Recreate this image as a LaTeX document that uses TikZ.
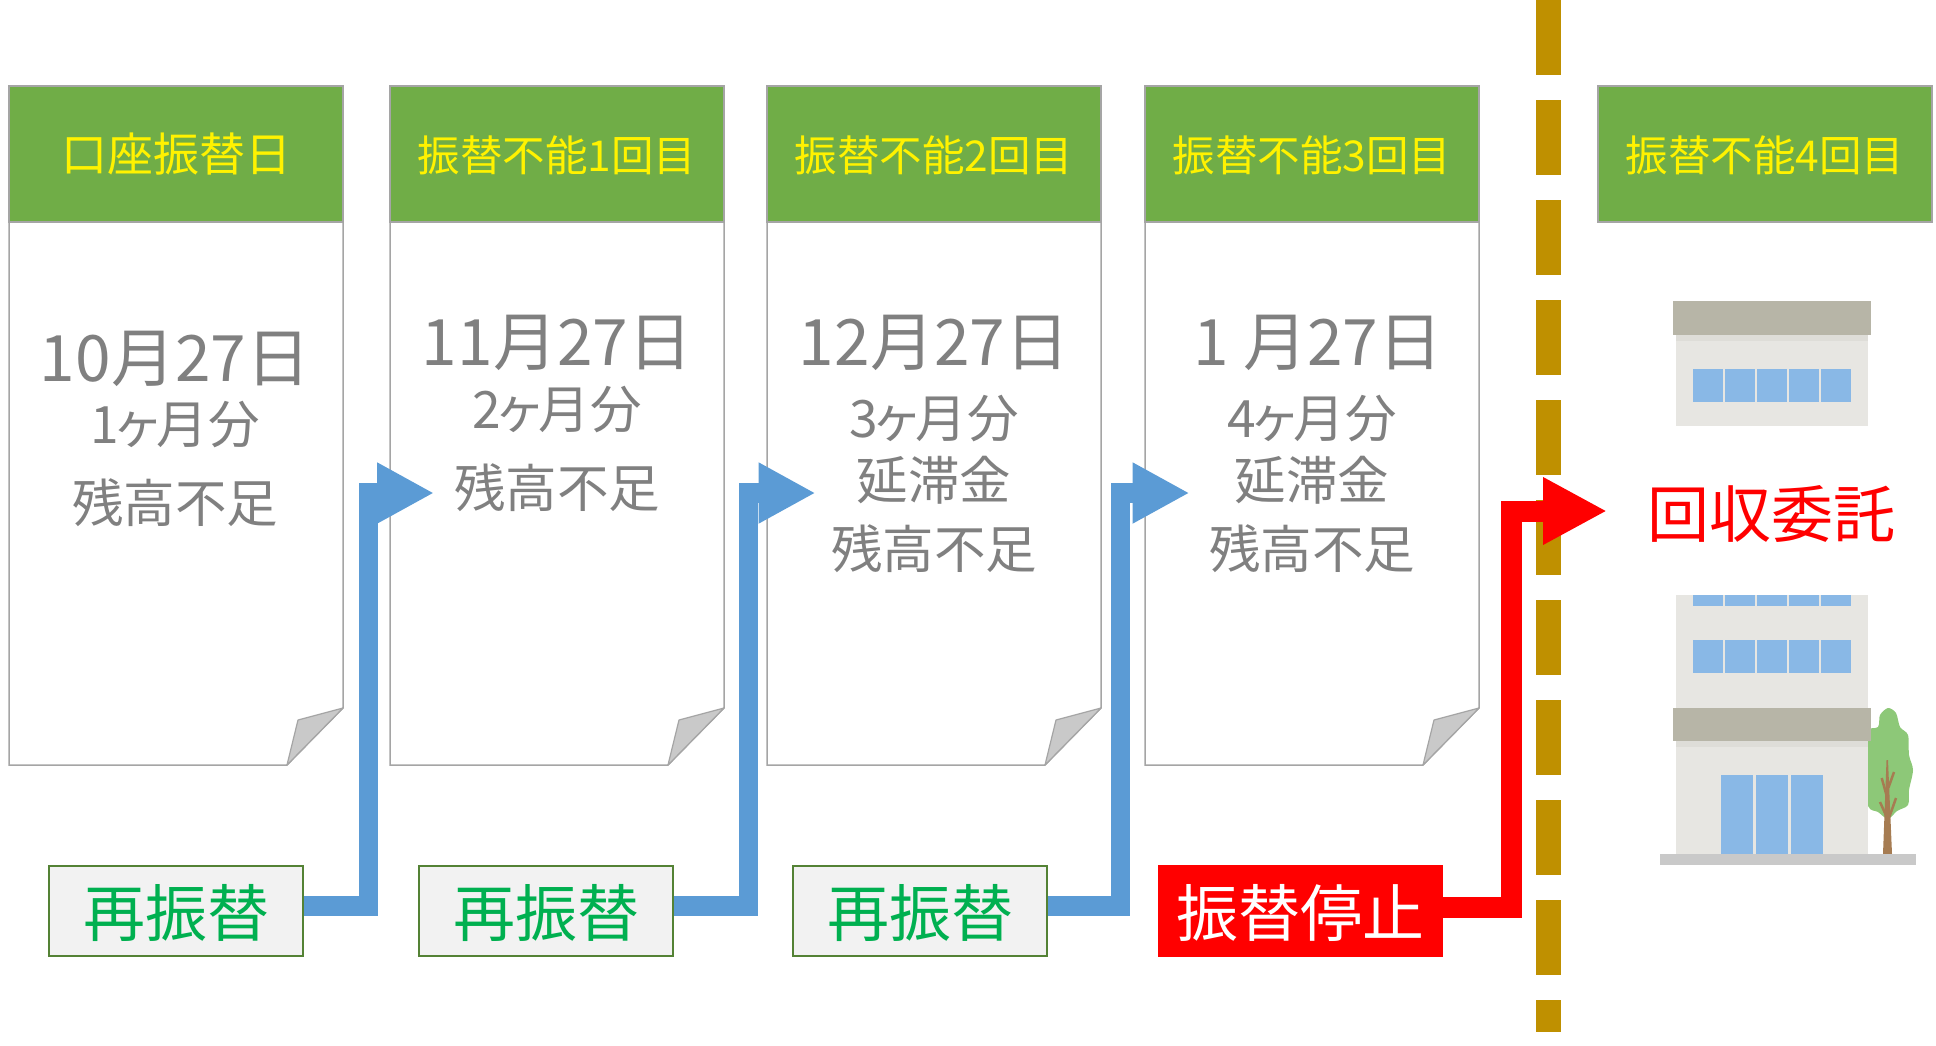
\documentclass[tikz,border=0pt]{standalone}
\usepackage{fontspec}
\setmainfont{Noto Sans CJK JP}
\usetikzlibrary{arrows.meta}
\definecolor{HeadClr}{RGB}{112,173,71}
\definecolor{EdgeClr}{RGB}{165,165,165}
\definecolor{FoldClr}{RGB}{201,201,201}
\definecolor{MsgClr}{RGB}{128,128,128}
\definecolor{RetryClr}{RGB}{0,176,80}
\definecolor{RetryEdgeClr}{RGB}{84,130,53}
\definecolor{RetryFillClr}{RGB}{242,242,242}
\definecolor{FlowClr}{RGB}{91,155,213}
\definecolor{LimitClr}{RGB}{191,144,0}
\definecolor{RoofClr}{RGB}{183,181,167}
\definecolor{WallClr}{RGB}{231,230,226}
\definecolor{EavesClr}{RGB}{222,221,216}
\definecolor{GlassClr}{RGB}{137,184,230}
\definecolor{LeafClr}{RGB}{141,200,120}
\definecolor{TrunkClr}{RGB}{166,124,82}
\newcommand{\smallka}{\kern-7pt ヶ\kern-7pt }
\tikzset{
  headbox/.style={draw=EdgeClr,line width=1.5pt,fill=HeadClr,text=yellow,minimum width=334,minimum height=136,inner sep=0pt,text height=38pt,text depth=3pt,font=\fontsize{42.5}{42.5}\selectfont},
  paper/.style={draw=EdgeClr,line width=1.5pt,fill=white},
  fold/.style={draw=EdgeClr,line width=1.2pt,fill=FoldClr,line join=round},
  datetext/.style={text=MsgClr,inner sep=0pt,text height=56pt,text depth=8pt,font=\fontsize{64}{64}\selectfont},
  msgtext/.style={text=MsgClr,inner sep=0pt,text height=45pt,text depth=6pt,font=\fontsize{51.5}{51.5}\selectfont},
  retrybox/.style={draw=RetryEdgeClr,line width=1.5pt,fill=RetryFillClr,text=RetryClr,minimum width=254,minimum height=90,inner sep=0pt,text height=57pt,text depth=6pt,font=\fontsize{62}{62}\selectfont},
  stopbox/.style={fill=red,text=white,minimum width=285,minimum height=92,inner sep=0pt,text height=57pt,text depth=6pt,font=\fontsize{62}{62}\selectfont},
  flowline/.style={draw=FlowClr,line width=19.5pt,-{Triangle[length=57pt,width=57pt]}},
  stopline/.style={draw=red,line width=21pt,-{Triangle[length=64pt,width=63pt]}}
}

\begin{document}
\begin{tikzpicture}[x=1pt,y=-1pt]
\useasboundingbox (0,0) rectangle (1936,1045);

% Cards
\draw[paper] (9,222) -- (9,765) -- (287,765) -- (343,708) -- (343,222) -- cycle;
\draw[fold] (287,765) -- (298,720) -- (343,708) -- cycle;
\draw[paper] (390,222) -- (390,765) -- (668,765) -- (724,708) -- (724,222) -- cycle;
\draw[fold] (668,765) -- (679,720) -- (724,708) -- cycle;
\draw[paper] (767,222) -- (767,765) -- (1045,765) -- (1101,708) -- (1101,222) -- cycle;
\draw[fold] (1045,765) -- (1056,720) -- (1101,708) -- cycle;
\draw[paper] (1145,222) -- (1145,765) -- (1423,765) -- (1479,708) -- (1479,222) -- cycle;
\draw[fold] (1423,765) -- (1434,720) -- (1479,708) -- cycle;

\node[headbox] (head1) at (176,154) {\fontsize{46}{46}\selectfont 口座振替日};
\node[headbox] (head2) at (557,154) {振替不能1回目};
\node[headbox] (head3) at (934,154) {振替不能2回目};
\node[headbox] (head4) at (1312,154) {振替不能3回目};
\node[headbox] (head5) at (1765,154) {振替不能4回目};

\node[datetext] (date1) at (175,357) {10月27日};
\node[msgtext] (month1) at (175,424) {1\smallka 月分};
\node[msgtext] (short1) at (175,503) {残高不足};

\node[datetext] (date2) at (557,341) {11月27日};
\node[msgtext] (month2) at (557,409) {2\smallka 月分};
\node[msgtext] (short2) at (557,488) {残高不足};

\node[datetext] (date3) at (934,341) {12月27日};
\node[msgtext] (month3) at (934,418) {3\smallka 月分};
\node[msgtext] (late3) at (934,480) {延滞金};
\node[msgtext] (short3) at (934,549) {残高不足};

\node[datetext] (date4) at (1318,341) {1 月27日};
\node[msgtext] (month4) at (1312,418) {4\smallka 月分};
\node[msgtext] (late4) at (1312,480) {延滞金};
\node[msgtext] (short4) at (1312,549) {残高不足};

% Boundary line
\coordinate (limittop) at (1548,0);
\coordinate (limitend) at (1548,1032);
\draw[LimitClr,line width=25pt,dash pattern=on 75pt off 25pt] (limittop) -- (limitend);

% Bottom boxes
\node[retrybox] (retry1) at (176,911) {再振替};
\node[retrybox] (retry2) at (546,911) {再振替};
\node[retrybox] (retry3) at (920,911) {再振替};
\node[stopbox] (stop) at (1300.5,910.5) {振替停止};

\coordinate (bend1) at (368.5,906);
\coordinate (tip1) at (434,493);
\coordinate (bend2) at (748.5,906);
\coordinate (tip2) at (815.5,493);
\coordinate (bend3) at (1120.5,906);
\coordinate (tip3) at (1189.5,493);
\coordinate (bend4) at (1511.5,907);
\coordinate (tip4) at (1607,511);

\draw[flowline] (retry1.east |- bend1) -- (bend1) |- (tip1);
\draw[flowline] (retry2.east |- bend2) -- (bend2) |- (tip2);
\draw[flowline] (retry3.east |- bend3) -- (bend3) |- (tip3);
\draw[stopline] (stop.east |- bend4) -- (bend4) |- (tip4);

% Upper building
\fill[WallClr] (1676,335) rectangle (1868,426);
\fill[EavesClr] (1676,335) rectangle (1868,341);
\fill[RoofClr] (1673,301) rectangle (1871,335);
\fill[GlassClr] (1693,369) rectangle (1723,402);
\fill[GlassClr] (1725,369) rectangle (1755,402);
\fill[GlassClr] (1757,369) rectangle (1787,402);
\fill[GlassClr] (1789,369) rectangle (1819,402);
\fill[GlassClr] (1821,369) rectangle (1851,402);

% Tree
\fill[LeafClr] plot[smooth cycle] coordinates {(1878,727) (1880,715) (1888,708) (1896,713) (1900,727) (1908,735) (1909,755) (1913,770) (1909,790) (1908,805) (1897,811) (1888,819) (1878,812) (1868,806) (1860,770) (1866,732)};
\fill[TrunkClr] (1883,854) -- (1886.5,760) -- (1888,760) -- (1892,854) -- cycle;
\draw[TrunkClr,line width=2.5pt] (1886.7,796) -- (1881.7,778);
\draw[TrunkClr,line width=2.5pt] (1888.3,788) -- (1894,772);
\draw[TrunkClr,line width=2.5pt] (1886.7,817) -- (1880,802);
\draw[TrunkClr,line width=2.5pt] (1889.3,817) -- (1896,798);

% Lower building
\fill[WallClr] (1676,595) rectangle (1868,854);
\fill[EavesClr] (1676,741) rectangle (1868,747);
\fill[RoofClr] (1673,708) rectangle (1871,741);
\fill[GlassClr] (1693,595) rectangle (1723,606);
\fill[GlassClr] (1725,595) rectangle (1755,606);
\fill[GlassClr] (1757,595) rectangle (1787,606);
\fill[GlassClr] (1789,595) rectangle (1819,606);
\fill[GlassClr] (1821,595) rectangle (1851,606);
\fill[GlassClr] (1693,640) rectangle (1723,673);
\fill[GlassClr] (1725,640) rectangle (1755,673);
\fill[GlassClr] (1757,640) rectangle (1787,673);
\fill[GlassClr] (1789,640) rectangle (1819,673);
\fill[GlassClr] (1821,640) rectangle (1851,673);
\fill[GlassClr] (1721,775) rectangle (1753,854);
\fill[GlassClr] (1756,775) rectangle (1788,854);
\fill[GlassClr] (1791,775) rectangle (1823,854);
\fill[FoldClr] (1660,854) rectangle (1916,865);

\node[text=red,inner sep=0pt,text height=54pt,text depth=8pt,font=\fontsize{62}{62}\selectfont] (collect) at (1771,514) {回収委託};

\end{tikzpicture}
\end{document}
